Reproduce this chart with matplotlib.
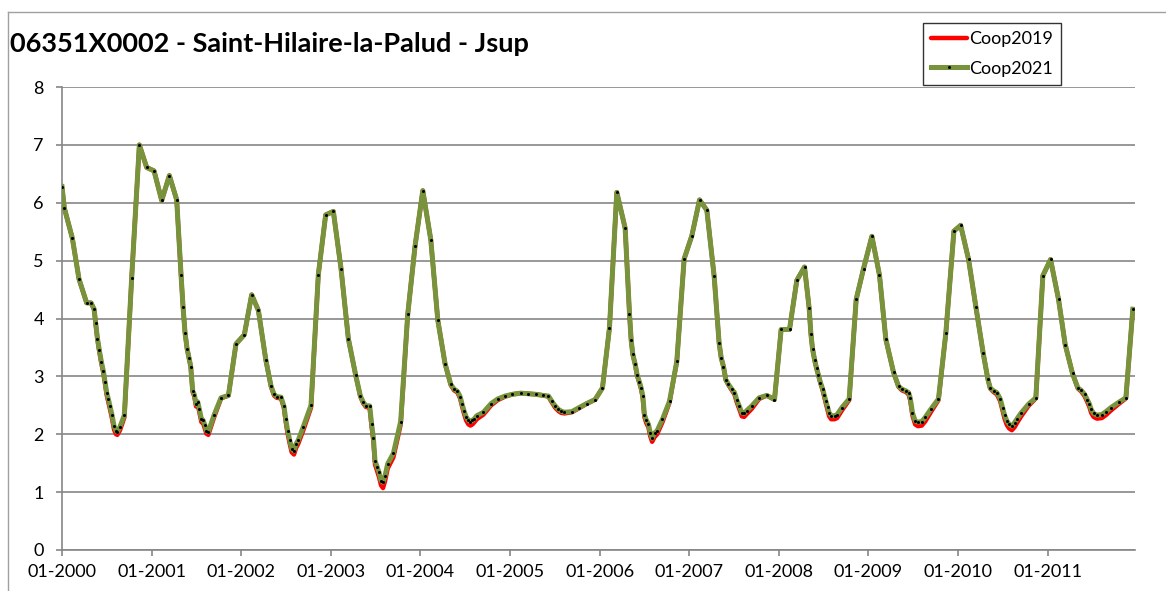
import matplotlib
matplotlib.use("Agg")
import matplotlib.pyplot as plt
from matplotlib.lines import Line2D

# time axis in months since 01-2000 (irregular sampling)
months = [
    0.0, 0.31, 1.38, 2.28, 3.3, 3.89, 4.3, 4.5, 4.75, 5.0,
    5.27, 5.54, 5.76, 5.98, 6.2, 6.43, 6.7, 6.97, 7.24, 7.41,
    7.77, 8.35, 9.33, 10.36, 11.34, 12.33, 13.35, 14.38, 15.36, 15.94,
    16.21, 16.48, 16.75, 17.02, 17.24, 17.5, 17.73, 17.95, 18.17, 18.4,
    18.67, 18.9, 19.12, 19.34, 19.6, 20.36, 21.3, 22.29, 23.3, 24.42,
    25.4, 26.3, 27.3, 28.0, 28.4, 28.75, 29.33, 29.73, 29.96, 30.22,
    30.49, 30.76, 31.07, 31.34, 31.65, 32.32, 33.35, 34.33, 35.31, 36.34,
    37.37, 38.35, 39.33, 39.96, 40.36, 40.71, 41.2, 41.47, 41.7, 41.92,
    42.19, 42.46, 42.72, 42.99, 43.26, 43.62, 44.38, 45.36, 46.3, 47.28,
    48.32, 49.39, 50.33, 51.3, 52.07, 52.5, 52.96, 53.32, 53.58, 53.85,
    54.12, 54.43, 54.7, 54.97, 55.24, 55.55, 56.44, 57.47, 58.36, 59.34,
    60.33, 61.44, 62.47, 63.45, 64.48, 65.15, 65.6, 66.04, 66.49, 66.84,
    67.29, 68.27, 69.25, 70.28, 71.4, 72.38, 73.32, 74.3, 75.42, 76.0,
    76.22, 76.44, 76.76, 77.03, 77.34, 77.56, 77.78, 78.0, 78.23, 78.54,
    78.77, 79.03, 79.35, 79.7, 80.42, 81.36, 82.34, 83.32, 84.35, 85.38,
    86.36, 87.34, 88.0, 88.28, 88.59, 88.9, 89.26, 89.7, 90.06, 90.37,
    90.69, 91.04, 91.36, 91.71, 92.38, 93.36, 94.39, 95.42, 96.31, 97.43,
    98.41, 99.44, 100.06, 100.29, 100.51, 100.78, 101.05, 101.31, 101.58, 101.85,
    102.07, 102.3, 102.52, 102.74, 103.01, 103.46, 103.81, 104.44, 105.42, 106.36,
    107.34, 108.46, 109.48, 110.33, 111.36, 112.03, 112.47, 113.01, 113.37, 113.59,
    113.9, 114.26, 114.62, 115.15, 115.6, 116.4, 117.38, 118.37, 119.45, 120.35,
    121.41, 122.39, 123.37, 124.0, 124.31, 124.75, 125.2, 125.65, 125.96, 126.23,
    126.54, 126.85, 127.21, 127.57, 127.92, 128.46, 129.44, 130.42, 131.36, 132.39,
    133.46, 134.35, 135.33, 136.05, 136.49, 136.94, 137.3, 137.57, 137.83, 138.15,
    138.59, 139.26, 139.8, 140.47, 141.5, 142.48, 143.41,
]

coop2021 = [
    6.28, 5.91, 5.39, 4.68, 4.27, 4.27, 4.16, 3.93, 3.65, 3.45,
    3.25, 3.09, 2.91, 2.72, 2.61, 2.48, 2.33, 2.14, 2.06, 2.04,
    2.13, 2.33, 4.70, 7.00, 6.61, 6.55, 6.04, 6.47, 6.05, 4.76,
    4.20, 3.75, 3.48, 3.31, 3.17, 2.75, 2.68, 2.52, 2.56, 2.43,
    2.26, 2.24, 2.16, 2.06, 2.04, 2.33, 2.63, 2.67, 3.56, 3.72,
    4.41, 4.14, 3.28, 2.83, 2.69, 2.65, 2.64, 2.48, 2.26, 2.06,
    1.90, 1.75, 1.71, 1.83, 1.90, 2.13, 2.50, 4.76, 5.79, 5.85,
    4.86, 3.65, 3.02, 2.66, 2.55, 2.49, 2.49, 2.17, 1.94, 1.54,
    1.44, 1.34, 1.20, 1.17, 1.28, 1.49, 1.67, 2.22, 4.07, 5.25,
    6.21, 5.36, 3.97, 3.22, 2.86, 2.78, 2.74, 2.65, 2.52, 2.40,
    2.30, 2.24, 2.22, 2.24, 2.27, 2.32, 2.38, 2.53, 2.61, 2.66,
    2.69, 2.71, 2.70, 2.69, 2.67, 2.66, 2.57, 2.49, 2.43, 2.40,
    2.38, 2.39, 2.46, 2.53, 2.60, 2.80, 3.84, 6.18, 5.56, 4.08,
    3.63, 3.38, 3.21, 3.02, 2.90, 2.80, 2.66, 2.34, 2.25, 2.17,
    2.03, 1.93, 2.02, 2.06, 2.26, 2.57, 3.26, 5.03, 5.43, 6.05,
    5.87, 4.73, 3.58, 3.32, 3.17, 2.94, 2.86, 2.78, 2.72, 2.59,
    2.49, 2.37, 2.36, 2.41, 2.49, 2.63, 2.67, 2.60, 3.81, 3.81,
    4.66, 4.89, 4.18, 3.74, 3.48, 3.29, 3.14, 3.02, 2.89, 2.79,
    2.68, 2.57, 2.47, 2.37, 2.32, 2.32, 2.34, 2.46, 2.61, 4.33,
    4.86, 5.42, 4.75, 3.64, 3.07, 2.83, 2.78, 2.75, 2.72, 2.63,
    2.37, 2.23, 2.21, 2.22, 2.29, 2.44, 2.61, 3.75, 5.51, 5.61,
    5.02, 4.20, 3.40, 2.95, 2.80, 2.75, 2.72, 2.61, 2.46, 2.33,
    2.23, 2.17, 2.14, 2.20, 2.27, 2.37, 2.52, 2.63, 4.74, 5.02,
    4.33, 3.55, 3.05, 2.80, 2.76, 2.69, 2.60, 2.53, 2.43, 2.36,
    2.33, 2.34, 2.39, 2.46, 2.55, 2.63, 4.16,
]

coop2019 = [
    6.28, 5.91, 5.39, 4.68, 4.27, 4.27, 4.16, 3.92, 3.64, 3.43,
    3.23, 3.06, 2.88, 2.68, 2.56, 2.43, 2.27, 2.08, 2.00, 1.99,
    2.07, 2.29, 4.70, 7.00, 6.61, 6.55, 6.04, 6.47, 6.05, 4.76,
    4.20, 3.75, 3.48, 3.31, 3.17, 2.73, 2.65, 2.48, 2.52, 2.38,
    2.21, 2.19, 2.10, 2.01, 1.99, 2.29, 2.62, 2.67, 3.56, 3.72,
    4.41, 4.14, 3.28, 2.82, 2.67, 2.63, 2.62, 2.45, 2.22, 2.01,
    1.84, 1.69, 1.65, 1.76, 1.84, 2.07, 2.46, 4.76, 5.79, 5.85,
    4.86, 3.65, 3.02, 2.65, 2.53, 2.47, 2.46, 2.13, 1.89, 1.48,
    1.37, 1.26, 1.12, 1.07, 1.19, 1.41, 1.60, 2.17, 4.07, 5.25,
    6.21, 5.36, 3.97, 3.22, 2.85, 2.76, 2.72, 2.62, 2.48, 2.35,
    2.24, 2.17, 2.15, 2.17, 2.21, 2.26, 2.34, 2.50, 2.59, 2.65,
    2.69, 2.71, 2.70, 2.69, 2.67, 2.65, 2.55, 2.46, 2.40, 2.37,
    2.36, 2.38, 2.45, 2.53, 2.60, 2.80, 3.84, 6.18, 5.56, 4.08,
    3.63, 3.38, 3.21, 3.01, 2.88, 2.78, 2.63, 2.30, 2.20, 2.12,
    1.97, 1.87, 1.95, 2.00, 2.21, 2.55, 3.26, 5.03, 5.43, 6.05,
    5.87, 4.73, 3.58, 3.32, 3.17, 2.94, 2.85, 2.76, 2.69, 2.55,
    2.44, 2.31, 2.30, 2.35, 2.44, 2.61, 2.67, 2.60, 3.81, 3.81,
    4.66, 4.89, 4.18, 3.74, 3.48, 3.29, 3.14, 3.02, 2.88, 2.77,
    2.65, 2.53, 2.42, 2.31, 2.26, 2.26, 2.28, 2.41, 2.59, 4.33,
    4.86, 5.42, 4.75, 3.64, 3.07, 2.82, 2.76, 2.73, 2.69, 2.59,
    2.32, 2.17, 2.14, 2.15, 2.22, 2.39, 2.59, 3.75, 5.51, 5.61,
    5.02, 4.20, 3.40, 2.95, 2.79, 2.73, 2.69, 2.57, 2.41, 2.27,
    2.16, 2.10, 2.07, 2.12, 2.20, 2.31, 2.49, 2.62, 4.74, 5.02,
    4.33, 3.55, 3.05, 2.79, 2.74, 2.66, 2.56, 2.48, 2.37, 2.30,
    2.27, 2.28, 2.33, 2.41, 2.52, 2.62, 4.16,
]

year_ticks = [0, 12, 24, 36, 48, 60, 72, 84, 96, 108, 120, 132]
year_labels = ["01-2000", "01-2001", "01-2002", "01-2003", "01-2004", "01-2005",
               "01-2006", "01-2007", "01-2008", "01-2009", "01-2010", "01-2011"]

title = "06351X0002 - Saint-Hilaire-la-Palud - Jsup"

plt.rcParams['font.family'] = ['Lato', 'DejaVu Sans']

W, H = 1166, 591
fig = plt.figure(figsize=(W / 100, H / 100), dpi=100)
ax = fig.add_axes([62 / W, 1 - 550 / H, (1135 - 62) / W, (550 - 87) / H])

grid_c = "#868686"
ax.plot(months, coop2019, color="#ff0000", lw=3.2, solid_capstyle="round",
        solid_joinstyle="round", label="Coop2019", zorder=3)
ax.plot(months, coop2021, color="#77933c", lw=3.6, solid_joinstyle="round",
        marker="o", markersize=2.2, markerfacecolor="black",
        markeredgecolor="black", markeredgewidth=0, label="Coop2021", zorder=4)

ax.set_xlim(0, 143.7)
ax.set_ylim(0, 8)
ax.set_yticks(range(0, 9))
ax.set_xticks(year_ticks)
ax.set_xticklabels(year_labels)
ax.grid(axis="y", color=grid_c, lw=1.2)
ax.set_axisbelow(True)
for s in ["top", "right"]:
    ax.spines[s].set_visible(False)
for s in ["left", "bottom"]:
    ax.spines[s].set_color(grid_c)
    ax.spines[s].set_linewidth(1.2)
ax.tick_params(axis="both", color=grid_c, width=1.2, length=4, labelsize=13,
               labelcolor="black")
ax.tick_params(axis="y", pad=9)
ax.tick_params(axis="x", pad=6)

fig.text(10 / W, 1 - 44 / H, title, fontsize=19.5, fontweight="bold",
         va="center", ha="left")

# outer chart border (top and left edges visible)
fig.add_artist(Line2D([8 / W, 1.0], [1 - 12 / H, 1 - 12 / H], color="#a0a0a0", lw=1))
fig.add_artist(Line2D([8 / W, 8 / W], [0, 1 - 12 / H], color="#a0a0a0", lw=1))

leg = ax.legend(loc="upper left", bbox_to_anchor=(923 / W, 1 - 23 / H),
                bbox_transform=fig.transFigure, fontsize=13, frameon=True,
                fancybox=False, edgecolor="black", handlelength=2.0,
                handletextpad=0.1, labelspacing=0.75, borderpad=0.45,
                borderaxespad=0)
leg.get_frame().set_linewidth(1.0)

fig.savefig("out.png", dpi=100)
